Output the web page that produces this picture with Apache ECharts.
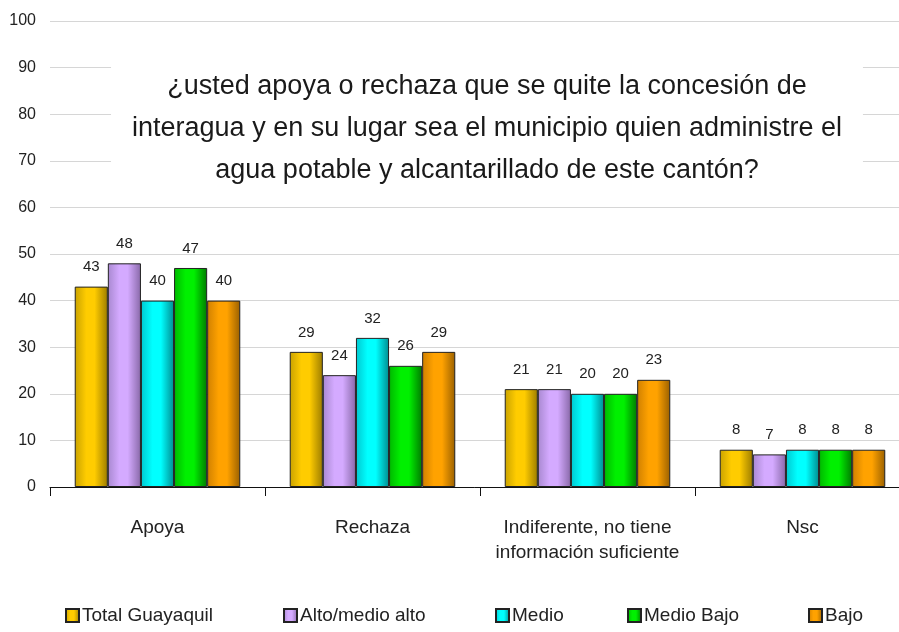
<!DOCTYPE html>
<html>
<head>
<meta charset="utf-8">
<script src="https://cdn.jsdelivr.net/npm/echarts@6/dist/echarts.min.js"></script>
<style>
  html, body { margin: 0; padding: 0; background: #fff; }
  #chart { width: 899px; height: 632px; }
</style>
</head>
<body>
<div id="chart"></div>
<script>
const categories = ['Apoya', 'Rechaza', 'Indiferente, no tiene\ninformación suficiente', 'Nsc'];
const totalGuayaquil = [43, 29, 21, 8];
const altoMedioAlto = [48, 24, 21, 7];
const medio = [40, 32, 20, 8];
const medioBajo = [47, 26, 20, 8];
const bajo = [40, 29, 23, 8];
const yTicks = [0, 10, 20, 30, 40, 50, 60, 70, 80, 90, 100];
const titleText = '¿usted apoya o rechaza que se quite la concesión de\ninteragua y en su lugar sea el municipio quien administre el\nagua potable y alcantarillado de este cantón?';

const FONT = '"Liberation Sans", Arial, sans-serif';

// horizontal shading like the old office 3d-ish bars
function shade(dark, bright, darker) {
  return new echarts.graphic.LinearGradient(0, 0, 1, 0, [
    { offset: 0, color: dark },
    { offset: 0.35, color: bright },
    { offset: 0.6, color: bright },
    { offset: 1, color: darker }
  ]);
}

function makeSeries(name, data, fill) {
  return {
    name: name,
    type: 'bar',
    data: data,
    barGap: '0%',
    barCategoryGap: '23%',
    itemStyle: { color: fill, borderColor: '#222', borderWidth: 1 },
    label: {
      show: true,
      position: 'top',
      distance: 12,
      color: '#222',
      fontFamily: FONT,
      fontSize: 15
    }
  };
}

const chart = echarts.init(document.getElementById('chart'));

const legendText = { color: '#222', fontFamily: FONT, fontSize: 19 };
function legendAt(name, left) {
  return {
    data: [name],
    left: left,
    top: 606,
    itemWidth: 13,
    itemHeight: 13,
    itemGap: 0,
    padding: 0,
    icon: 'rect',
    textStyle: Object.assign({ padding: [0, 0, 0, -2] }, legendText)
  };
}

chart.setOption({
  animation: false,
  backgroundColor: '#fff',
  legend: [
    legendAt('Total Guayaquil', 65),
    legendAt('Alto/medio alto', 283),
    legendAt('Medio', 495),
    legendAt('Medio Bajo', 627),
    legendAt('Bajo', 808)
  ],
  // plot runs a little past the right edge, like the cropped original
  grid: { left: 50, width: 860, top: 21, bottom: 145, outerBoundsMode: 'none', containLabel: false },
  xAxis: {
    type: 'category',
    data: categories,
    axisLine: { lineStyle: { color: '#111', width: 1 } },
    axisTick: { show: true, length: 9, alignWithLabel: false, lineStyle: { color: '#111' } },
    axisLabel: {
      margin: 28,
      color: '#222',
      fontFamily: FONT,
      fontSize: 19,
      lineHeight: 25,
      verticalAlign: 'top',
      interval: 0
    }
  },
  yAxis: {
    type: 'value',
    min: yTicks[0],
    max: yTicks[yTicks.length - 1],
    interval: 10,
    axisLine: { show: false },
    axisTick: { show: false },
    splitLine: { lineStyle: { color: '#d6d6d6', width: 1 } },
    axisLabel: { margin: 14, color: '#222', fontFamily: FONT, fontSize: 16 }
  },
  // question box sits on top of the grid lines with a white background
  graphic: [{
    type: 'text',
    x: 487,
    y: 62,
    z: 100,
    style: {
      text: titleText,
      align: 'center',
      verticalAlign: 'top',
      fill: '#1a1a1a',
      fontFamily: FONT,
      fontSize: 27,
      lineHeight: 42,
      backgroundColor: '#fff',
      padding: [4, 21]
    }
  }],
  series: [
    makeSeries('Total Guayaquil', totalGuayaquil, shade('#c9a200', '#ffcc00', '#9c7c00')),
    makeSeries('Alto/medio alto', altoMedioAlto, shade('#a888d0', '#d4aaff', '#8868a8')),
    makeSeries('Medio', medio, shade('#00c8d0', '#00ffff', '#008c90')),
    makeSeries('Medio Bajo', medioBajo, shade('#00b800', '#00f000', '#007a00')),
    makeSeries('Bajo', bajo, shade('#d08000', '#ffa200', '#9a6000'))
  ]
});
</script>
</body>
</html>
